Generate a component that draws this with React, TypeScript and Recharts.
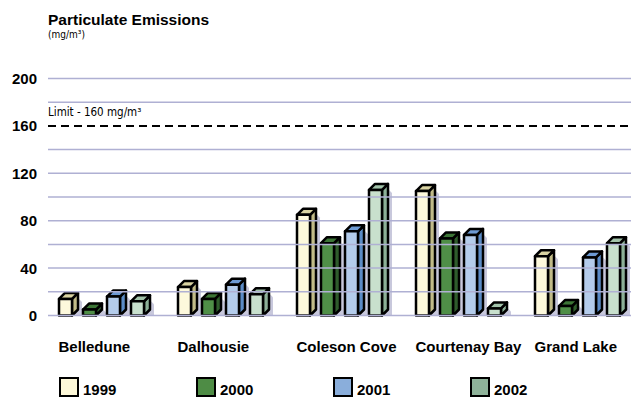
import { BarChart, Bar, XAxis, YAxis, ReferenceLine } from 'recharts';

const sites = ['Belledune', 'Dalhousie', 'Coleson Cove', 'Courtenay Bay', 'Grand Lake'];
const years = ['1999', '2000', '2001', '2002'];
const v1999 = [14, 24, 85, 105, 50];
const v2000 = [5, 14, 61, 65, 8];
const v2001 = [16, 26, 71, 68, 49];
const v2002 = [12, 18, 106, 6, 61];
const yTicks = [0, 40, 80, 120, 160, 200];
const gridValues = [0, 20, 40, 60, 80, 100, 120, 140, 180, 200];
const limitValue = 160;

const chartData = sites.map((site, i) => ({
  site,
  '1999': v1999[i],
  '2000': v2000[i],
  '2001': v2001[i],
  '2002': v2002[i],
}));

const palette: Record<string, { front: string; side: string; top: string; legend: string }> = {
  '1999': { front: '#fdf9dc', side: '#c1bb88', top: '#d9d3a2', legend: '#fdf8d8' },
  '2000': { front: '#4f8f47', side: '#2f5c2c', top: '#3c7536', legend: '#4e8c45' },
  '2001': { front: '#b4cceb', side: '#5b8bc6', top: '#6d9ad3', legend: '#8aaedb' },
  '2002': { front: '#c8e0cd', side: '#8cb097', top: '#a2c3aa', legend: '#8fb39a' },
};

const font = '"Liberation Sans", Arial, sans-serif';
const narrow = '"Liberation Sans Narrow", "DejaVu Sans Condensed", Arial, sans-serif';
const DEPTH = 6;

function make3DBar(year: string) {
  const c = palette[year];
  return (props: any) => {
    const { x, y, width, height } = props;
    if (height == null || width == null) return <g />;
    const d = DEPTH;
    const r = x + width;
    const b = y + height;
    return (
      <g>
        <polygon
          points={`${r + d},${y - d + 5} ${r + d + 4},${y - d + 9} ${r + d + 4},${b} ${r},${b}`}
          fill="#c8c8dc"
        />
        <polygon
          points={`${r},${y} ${r + d},${y - d} ${r + d},${b - d} ${r},${b}`}
          fill={c.side}
          stroke="#000"
          strokeWidth={2.5}
          strokeLinejoin="round"
        />
        <polygon
          points={`${x},${y} ${x + d},${y - d} ${r + d},${y - d} ${r},${y}`}
          fill={c.top}
          stroke="#000"
          strokeWidth={2.5}
          strokeLinejoin="round"
        />
        <rect x={x} y={y} width={width} height={height} fill={c.front} stroke="#000" strokeWidth={2.5} strokeLinejoin="round" />
      </g>
    );
  };
}

function YTick({ x, y, payload }: any) {
  return (
    <text x={x} y={y} dy="0.36em" textAnchor="end" fontFamily={font} fontWeight="bold" fontSize={15} fill="#000">
      {payload.value}
    </text>
  );
}

function XTick({ x, y, payload }: any) {
  return (
    <text x={x - 43} y={y} dy={28.5} textAnchor="start" fontFamily={font} fontWeight="bold" fontSize={15} fill="#000">
      {payload.value}
    </text>
  );
}

function LimitLabel({ viewBox }: any) {
  return (
    <text x={viewBox.x} y={viewBox.y - 10} fontFamily={narrow} fontSize={11.5} fill="#000">
      Limit - 160 mg/m³
    </text>
  );
}

export default function App() {
  return (
    <div style={{ position: 'absolute', left: 0, top: 0, width: 631, height: 399, overflow: 'hidden', background: '#fff' }}>
      <div style={{ position: 'absolute', left: 48, top: 12, fontFamily: font, fontWeight: 'bold', fontSize: 15.5, lineHeight: 1 }}>
        Particulate Emissions
      </div>
      <div style={{ position: 'absolute', left: 48, top: 29.5, fontFamily: narrow, fontSize: 10, lineHeight: 1 }}>
        (mg/m³)
      </div>
      <BarChart
        width={640}
        height={399}
        data={chartData}
        margin={{ top: 78.5, right: 3, left: 0, bottom: 53.5 }}
        barSize={13}
        barGap={11}
      >
        {gridValues.map((v) => (
          <ReferenceLine key={v} y={v} stroke="#afb0d3" strokeWidth={1.5} />
        ))}
        <ReferenceLine y={limitValue} stroke="#000" strokeWidth={2} strokeDasharray="8 5" label={<LimitLabel />} />
        <XAxis
          dataKey="site"
          axisLine={false}
          tickLine={false}
          tick={<XTick />}
          height={30}
          interval={0}
          padding={{ left: -6, right: 0 }}
        />
        <YAxis
          domain={[0, 200]}
          ticks={yTicks}
          axisLine={false}
          tickLine={false}
          tickMargin={5}
          width={48}
          tick={<YTick />}
        />
        {years.map((yr) => (
          <Bar key={yr} dataKey={yr} shape={make3DBar(yr)} isAnimationActive={false} />
        ))}
      </BarChart>
      <div style={{ position: 'absolute', left: 59, top: 377, display: 'flex' }}>
        {years.map((yr) => (
          <div key={yr} style={{ width: 137, height: 20, display: 'flex', alignItems: 'flex-end' }}>
            <div
              style={{
                width: 20,
                height: 20,
                boxSizing: 'border-box',
                border: '2.5px solid #000',
                background: palette[yr].legend,
              }}
            />
            <span style={{ marginLeft: 4, fontFamily: font, fontWeight: 'bold', fontSize: 15, lineHeight: 1 }}>{yr}</span>
          </div>
        ))}
      </div>
    </div>
  );
}
